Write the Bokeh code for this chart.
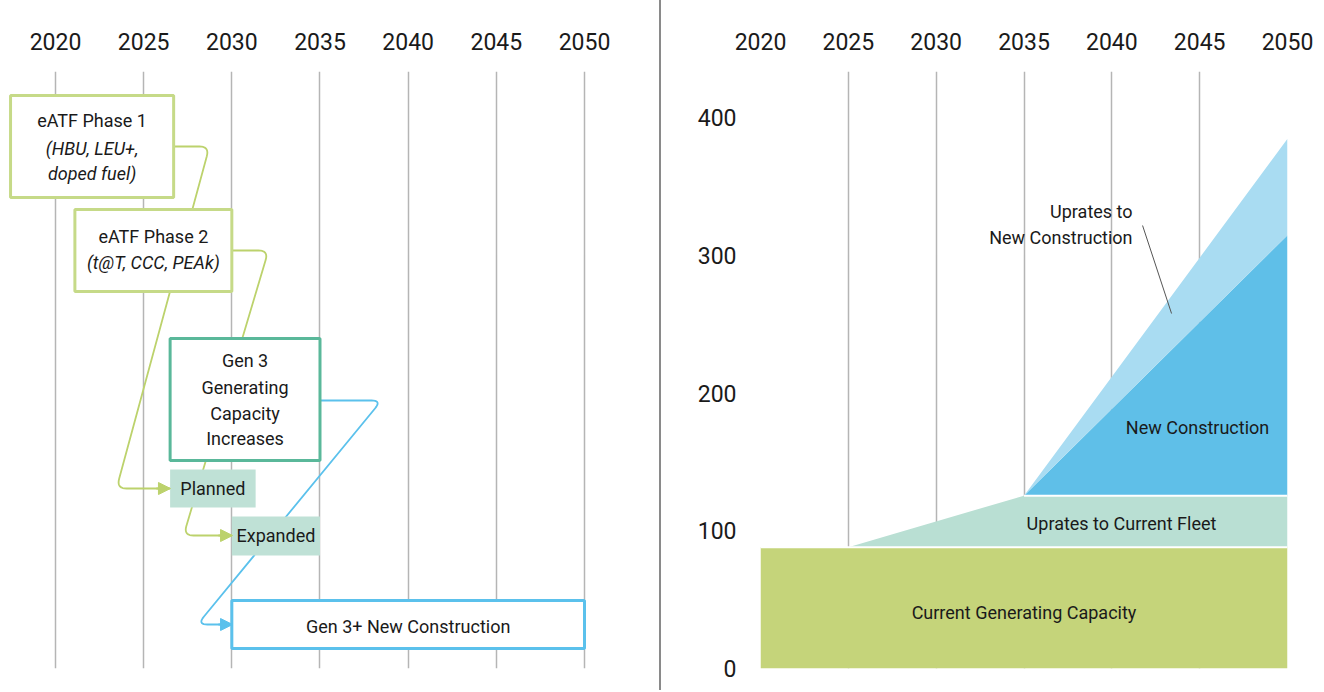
import numpy as np
from bokeh.plotting import figure
from bokeh.layouts import row
from bokeh.models import (Range1d, FixedTicker, ColumnDataSource, Div, Arrow,
                          NormalHead)
from bokeh.core.properties import value
from bokeh.embed import file_html
from bokeh.resources import INLINE

FONT = "Roboto"
TXT = "#1a1a1a"

# ---------------- data ----------------
tick_years = [2020, 2025, 2030, 2035, 2040, 2045, 2050]
cap_ticks = [0, 100, 200, 300, 400]

# right panel: generating capacity (stacked)
years = [2020, 2025, 2035, 2050]
current_capacity = [88, 88, 88, 88]
uprates_fleet = [0, 0, 37.5, 37.5]
new_construction = [0, 0, 0, 189]
uprates_new = [0, 0, 0, 70]

# left panel: timeline boxes (start year, end year)
box_names = ["eATF Phase 1", "eATF Phase 2", "Gen 3 Generating Capacity Increases",
             "Planned", "Expanded", "Gen 3+ New Construction"]
box_start = [2017.45, 2021.1, 2026.5, 2026.5, 2030.0, 2030.0]
box_end = [2026.7, 2030.0, 2035.0, 2031.35, 2035.0, 2050.0]

# ---------------- styling / layout ----------------
GRID = "#b5b5b5"
LGREEN = "#c6da88"
CGREEN = "#bcd26c"
TEAL = "#5ab89a"
TEAL_FILL = "#bfe1d6"
BLUE = "#5bc1ec"

W_LEFT, W_DIV, W_RIGHT, H = 659, 2, 661, 690
TOP, BOTTOM = 71, 22
TICK_SIZE = "23px"
LABEL_SIZE = "18px"

# ================= LEFT PANEL =================
k_left = 17.633  # px per year
x0_left = 2020 - 55 / k_left
x1_left = x0_left + W_LEFT / k_left
pl = figure(width=W_LEFT, height=H, output_backend="svg", toolbar_location=None,
            x_range=Range1d(x0_left, x1_left), y_range=Range1d(668, 71),
            x_axis_location="above", y_axis_location=None,
            min_border_left=0, min_border_right=0, min_border_top=TOP,
            min_border_bottom=BOTTOM, outline_line_color=None)
pl.xaxis.ticker = FixedTicker(ticks=tick_years)
pl.xaxis.axis_line_color = None
pl.xaxis.major_tick_line_color = None
pl.xaxis.minor_tick_line_color = None
pl.xaxis.major_label_text_font = FONT
pl.xaxis.major_label_text_font_size = TICK_SIZE
pl.xaxis.major_label_text_color = TXT
pl.xaxis.major_label_standoff = 16
pl.xgrid.ticker = FixedTicker(ticks=tick_years)
pl.xgrid.grid_line_color = GRID
pl.xgrid.grid_line_width = 1.5
pl.ygrid.grid_line_color = None


def yr2px(x):
    return (np.asarray(x, float) - x0_left) * k_left


def px2yr(p):
    return np.asarray(p, float) / k_left + x0_left


def rounded(xs_yr, ys, r=10, n=10):
    px = list(yr2px(xs_yr))
    py = list(ys)
    ox, oy = [px[0]], [py[0]]
    for i in range(1, len(px) - 1):
        cx, cy = px[i], py[i]
        ax, ay = px[i - 1] - cx, py[i - 1] - cy
        bx, by = px[i + 1] - cx, py[i + 1] - cy
        la, lb = np.hypot(ax, ay), np.hypot(bx, by)
        s = (cx + ax / la * r, cy + ay / la * r)
        e = (cx + bx / lb * r, cy + by / lb * r)
        for t in np.linspace(0, 1, n):
            ox.append((1 - t) ** 2 * s[0] + 2 * (1 - t) * t * cx + t ** 2 * e[0])
            oy.append((1 - t) ** 2 * s[1] + 2 * (1 - t) * t * cy + t ** 2 * e[1])
    ox.append(px[-1]); oy.append(py[-1])
    return list(px2yr(ox)), oy


connectors = [
    ([2026.69, 2028.73, 2023.46, 2026.52], [146, 146, 488, 488], CGREEN),
    ([2030.04, 2032.08, 2027.26, 2030.04], [250, 250, 535, 535], CGREEN),
    ([2035.03, 2038.49, 2028.05, 2030.04], [400, 400, 624, 624], BLUE),
]
for xs, ys, c in connectors:
    rx, ry = rounded(xs, ys)
    pl.line(rx, ry, line_color=c, line_width=1.8)
    pl.add_layout(Arrow(end=NormalHead(size=12, fill_color=c, line_color=c),
                        x_start=xs[-1] - 0.8, y_start=ys[-1], x_end=xs[-1], y_end=ys[-1],
                        line_color=c, line_width=1.8))

box_top = [95, 209, 338, 469, 516, 600]
box_bottom = [197, 291, 460, 507, 555, 648]
box_line = [LGREEN, LGREEN, TEAL, None, None, BLUE]
box_fill = ["white", "white", "white", TEAL_FILL, TEAL_FILL, "white"]
for i in range(len(box_names)):
    pl.quad(left=box_start[i], right=box_end[i], top=box_top[i], bottom=box_bottom[i],
            fill_color=box_fill[i], line_color=box_line[i], line_width=3)

def cx(i):
    return (box_start[i] + box_end[i]) / 2

lt = ColumnDataSource(dict(
    x=[cx(0), cx(1), cx(2), cx(2), cx(2), cx(2), cx(3), cx(4), cx(5)],
    y=[120, 236, 360, 387, 413, 438, 488, 535, 626],
    t=["eATF Phase 1", "eATF Phase 2", "Gen 3", "Generating", "Capacity", "Increases",
       "Planned", "Expanded", "Gen 3+ New Construction"]))
pl.text(x="x", y="y", text="t", source=lt, text_font=value(FONT), text_font_size=LABEL_SIZE,
        text_color=TXT, text_align="center", text_baseline="middle")
it = ColumnDataSource(dict(x=[cx(0), cx(0), cx(1)], y=[148, 173, 262],
                           t=["(HBU, LEU+,", "doped fuel)", "(t@T, CCC, PEAk)"]))
pl.text(x="x", y="y", text="t", source=it, text_font=value(FONT), text_font_size=LABEL_SIZE,
        text_font_style="italic", text_color=TXT, text_align="center",
        text_baseline="middle")

# ================= DIVIDER =================
div = Div(width=W_DIV, height=H, margin=(0, 0, 0, 0),
          styles={"background-color": "#8a8a8a"})

# ================= RIGHT PANEL =================
pr = figure(width=W_RIGHT, height=H, output_backend="svg", toolbar_location=None,
            x_range=Range1d(2020, 2050), y_range=Range1d(0, 433.4),
            x_axis_location="above", min_border_left=99, min_border_right=W_RIGHT - 99 - 527,
            min_border_top=TOP, min_border_bottom=BOTTOM, outline_line_color=None)
for ax in (pr.xaxis, pr.yaxis):
    ax.axis_line_color = None
    ax.major_tick_line_color = None
    ax.minor_tick_line_color = None
    ax.major_label_text_font = FONT
    ax.major_label_text_font_size = TICK_SIZE
    ax.major_label_text_color = TXT
pr.xaxis.ticker = FixedTicker(ticks=tick_years)
pr.yaxis.ticker = FixedTicker(ticks=cap_ticks)
pr.xaxis.major_label_standoff = 16
pr.yaxis.major_label_standoff = 18
pr.xgrid.ticker = FixedTicker(ticks=tick_years)
pr.xgrid.grid_line_color = GRID
pr.xgrid.grid_line_width = 1.5
pr.ygrid.grid_line_color = None

src = ColumnDataSource(dict(year=years, current=current_capacity, fleet=uprates_fleet,
                            newc=new_construction, upnew=uprates_new))
pr.varea_stack(stackers=["current", "fleet", "newc", "upnew"], x="year", source=src,
               color=["#c5d47a", "#b9dfd3", "#5fbfe8", "#a9dcf2"])
lvl1 = np.array(current_capacity, float)
lvl2 = lvl1 + np.array(uprates_fleet, float)
pr.line(years, lvl1, line_color="white", line_width=2)
pr.line(years[2:], lvl2[2:], line_color="white", line_width=2)

rt = ColumnDataSource(dict(x=[2044.88, 2040.55, 2035.0], y=[175, 105.3, 40.7],
                           t=["New Construction", "Uprates to Current Fleet",
                              "Current Generating Capacity"]))
pr.text(x="x", y="y", text="t", source=rt, text_font=value(FONT), text_font_size=LABEL_SIZE,
        text_color=TXT, text_align="center", text_baseline="middle")
ru = ColumnDataSource(dict(x=[2041.18, 2041.18], y=[331.8, 312.9],
                           t=["Uprates to", "New Construction"]))
pr.text(x="x", y="y", text="t", source=ru, text_font=value(FONT), text_font_size=LABEL_SIZE,
        text_color=TXT, text_align="right", text_baseline="middle")
pr.line([2041.75, 2043.4], [321.6, 257.7], line_color="#555555", line_width=1)

layout = row(pl, div, pr, spacing=0)
open("out.html", "w").write(file_html(layout, INLINE))
